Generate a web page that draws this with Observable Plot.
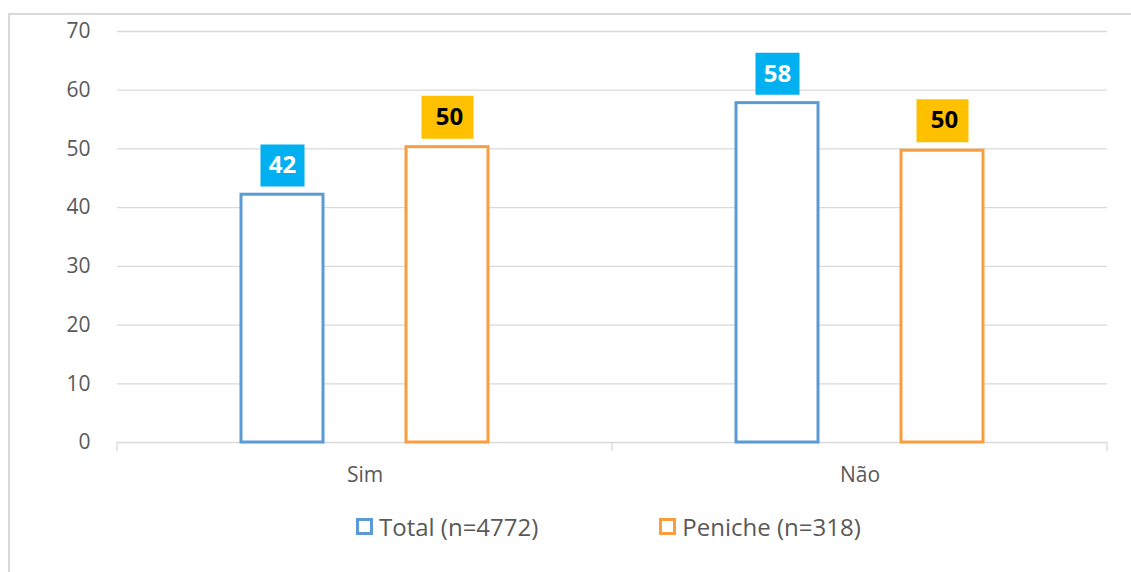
<!DOCTYPE html>
<html>
<head>
<meta charset="utf-8">
<script src="https://cdn.jsdelivr.net/npm/d3@7"></script>
<script src="https://cdn.jsdelivr.net/npm/@observablehq/plot@0.6"></script>
<style>
  html, body { margin: 0; padding: 0; background: #fff; overflow: hidden; width: 1131px; height: 572px; }
  #frame { position: absolute; left: 8px; top: 13px; width: 1140px; height: 600px; border: 2px solid #D9D9D9; box-sizing: border-box; font-family: "Open Sans", sans-serif; }
  #chart { position: absolute; left: 0; top: 0; }
  #legend { position: absolute; left: 346px; top: 495px; display: flex; align-items: center; font-size: 24px; color: #595959; white-space: nowrap; }
  .item { display: flex; align-items: center; }
  .item + .item { margin-left: 121px; }
  .swatch { width: 11px; height: 11px; border: 3px solid; margin-right: 6px; background: #fff; }
</style>
</head>
<body>
<div id="frame">
  <div id="chart"></div>
  <div id="legend"></div>
</div>
<script>
const categories = ["Sim", "Não"];
const seriesKeys = ["Total", "Peniche"];
const seriesLabels = ["Total (n=4772)", "Peniche (n=318)"];
const totalValues = [42.2, 57.8];
const penicheValues = [50.3, 49.7];
const yTicks = [0, 10, 20, 30, 40, 50, 60, 70];

const barColors = {Total: "#5B9BD5", Peniche: "#F99D3E"};
const boxColors = {Total: "#00B0F0", Peniche: "#FFC000"};
const textColors = {Total: "#FFFFFF", Peniche: "#000000"};

const data = [];
categories.forEach((c, i) => {
  data.push({cat: c, series: "Total", value: totalValues[i]});
  data.push({cat: c, series: "Peniche", value: penicheValues[i]});
});
const fmt = d3.format(".0f");
const boxSymbol = (w, h) => ({draw(ctx) { ctx.rect(-w / 2, -h / 2, w, h); }});

const W = 1121, H = 470, ML = 107, MR = 24, MT = 16, MB = 43;

const plot = Plot.plot({
  width: W, height: H,
  marginLeft: ML, marginRight: MR, marginTop: MT, marginBottom: MB,
  style: {fontFamily: "'Open Sans', sans-serif", fontSize: "21px", color: "#595959", background: "transparent", overflow: "visible"},
  fx: {domain: categories, padding: 0, label: null, axis: "bottom", tickSize: 0, tickPadding: 25},
  x: {domain: seriesKeys, paddingInner: 0.503, paddingOuter: 0.7515, axis: null},
  y: {domain: [0, 70], ticks: yTicks, tickSize: 0, tickPadding: 27, label: null, tickFormat: d3.format("d")},
  marks: [
    Plot.ruleY(yTicks, {stroke: "#D9D9D9", strokeWidth: 1.3}),
    Plot.barY(data, {fx: "cat", x: "series", y: "value", fill: "white", stroke: d => barColors[d.series], strokeWidth: 3}),
    Plot.dot(data.filter(d => d.series === "Total"), {fx: "cat", x: "series", y: "value", dy: -29.3, symbol: boxSymbol(44, 42), fill: boxColors.Total, stroke: "none"}),
    Plot.dot(data.filter(d => d.series === "Peniche"), {fx: "cat", x: "series", y: "value", dy: -30, symbol: boxSymbol(52, 43), fill: boxColors.Peniche, stroke: "none"}),
    Plot.text(data.filter(d => d.series === "Total"), {fx: "cat", x: "series", y: "value", dy: -29.3, text: d => fmt(d.value), fill: textColors.Total, fontWeight: "bold", fontSize: 24}),
    Plot.text(data.filter(d => d.series === "Peniche"), {fx: "cat", x: "series", y: "value", dy: -30, dx: 2, text: d => fmt(d.value), fill: textColors.Peniche, fontWeight: "bold", fontSize: 24})
  ]
});
document.getElementById("chart").appendChild(plot);

// category boundary ticks under the baseline
const svg = d3.select(plot.tagName === "svg" ? plot : plot.querySelector("svg"));
const yScale = plot.scale("y");
const y0 = yScale.apply ? yScale.apply(0) : H - MB;
const facetW = (W - ML - MR) / categories.length;
d3.range(categories.length + 1).forEach(i => {
  svg.append("line")
    .attr("x1", ML + i * facetW).attr("x2", ML + i * facetW)
    .attr("y1", y0).attr("y2", y0 + 9)
    .attr("stroke", "#D9D9D9").attr("stroke-width", 1.3);
});

// legend
const legend = d3.select("#legend");
seriesKeys.forEach((k, i) => {
  const it = legend.append("div").attr("class", "item");
  it.append("div").attr("class", "swatch").style("border-color", barColors[k]);
  it.append("span").text(seriesLabels[i]);
});
</script>
</body>
</html>
